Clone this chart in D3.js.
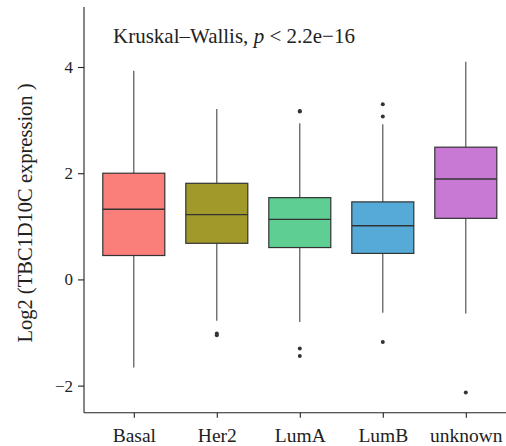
<!DOCTYPE html>
<html><head><meta charset="utf-8">
<script src="https://cdn.jsdelivr.net/npm/d3@7"></script>
<style>body{margin:0;background:#fff}svg{display:block}svg text{font-family:"Liberation Serif",serif !important}</style>
</head><body>
<svg id="c" width="506" height="446"></svg>
<script>
const categories = ["Basal","Her2","LumA","LumB","unknown"];
const colors = ["#FA7F7B","#A19A2A","#5ECE92","#56AAD8","#C879D4"];
const q1 = [0.45, 0.68, 0.60, 0.49, 1.15];
const medians = [1.32, 1.22, 1.13, 1.01, 1.89];
const q3 = [2.00, 1.81, 1.54, 1.46, 2.49];
const whiskerLow = [-1.66, -0.78, -0.80, -0.63, -0.64];
const whiskerHigh = [3.93, 3.21, 2.94, 2.92, 4.10];
const outliers = [[], [-1.02, -1.05], [3.16, 3.17, -1.30, -1.44], [3.30, 3.07, -1.18], [-2.13]];
const yTicks = [-2, 0, 2, 4];
const title = "Kruskal\u2013Wallis, ";
const yLabel = "Log2 (TBC1D10C expression )";

(function(){
const svg = d3.select("#c");
const mLeft = 84, mTop = 7, mBottom = 412.7;
const y = d3.scaleLinear().domain([-2.51, 5.13]).range([mBottom, mTop]);
const x = d3.scalePoint().domain(categories).range([mLeft, mLeft + 5.2*83]).padding(0.6);
const bw = 62;

const yAxis = svg.append("g").attr("transform", `translate(${mLeft},0)`)
  .call(d3.axisLeft(y).tickValues(yTicks).tickSize(6).tickPadding(5).tickFormat(d => d < 0 ? "\u2212" + Math.abs(d) : d));
yAxis.select(".domain").attr("d", `M0,${mTop}V${mBottom}`);
yAxis.selectAll(".tick text").style("font-size", "17px");
const xAxis = svg.append("g").attr("transform", `translate(0,${mBottom})`)
  .call(d3.axisBottom(x).tickSize(5));
xAxis.select(".domain").attr("d", `M${mLeft},0H506`);
xAxis.selectAll(".tick text").style("font-size", "19.5px").attr("y", 29).attr("dy", null);
svg.selectAll(".tick text").attr("fill", "#222");
svg.selectAll(".domain, .tick line").attr("stroke", "#222").attr("stroke-width", 1.1);

const g = svg.append("g");
categories.forEach((c, i) => {
  const cx = x(c);
  g.append("line").attr("x1", cx).attr("x2", cx).attr("y1", y(whiskerHigh[i])).attr("y2", y(q3[i]))
    .attr("stroke", "#444").attr("stroke-width", 1.1);
  g.append("line").attr("x1", cx).attr("x2", cx).attr("y1", y(q1[i])).attr("y2", y(whiskerLow[i]))
    .attr("stroke", "#444").attr("stroke-width", 1.1);
  g.append("rect").attr("x", cx - bw/2).attr("width", bw)
    .attr("y", y(q3[i])).attr("height", y(q1[i]) - y(q3[i]))
    .attr("fill", colors[i]).attr("stroke", "#333").attr("stroke-width", 1.2);
  g.append("line").attr("x1", cx - bw/2).attr("x2", cx + bw/2).attr("y1", y(medians[i])).attr("y2", y(medians[i]))
    .attr("stroke", "#333").attr("stroke-width", 1.4);
  outliers[i].forEach(v => {
    g.append("circle").attr("cx", cx).attr("cy", y(v)).attr("r", 2).attr("fill", "#333");
  });
});

const t = svg.append("text").attr("x", 113).attr("y", 42.5).style("font-size", "21px").attr("fill", "#222");
t.append("tspan").text(title);
t.append("tspan").attr("font-style", "italic").text("p");
t.append("tspan").text(" < 2.2e\u221216");

svg.append("text").attr("transform", `translate(32,${(83+343)/2}) rotate(-90)`)
  .attr("text-anchor", "middle")
  .style("font-size", "20.5px").attr("fill", "#222").text(yLabel);
})();
</script>
</body></html>
